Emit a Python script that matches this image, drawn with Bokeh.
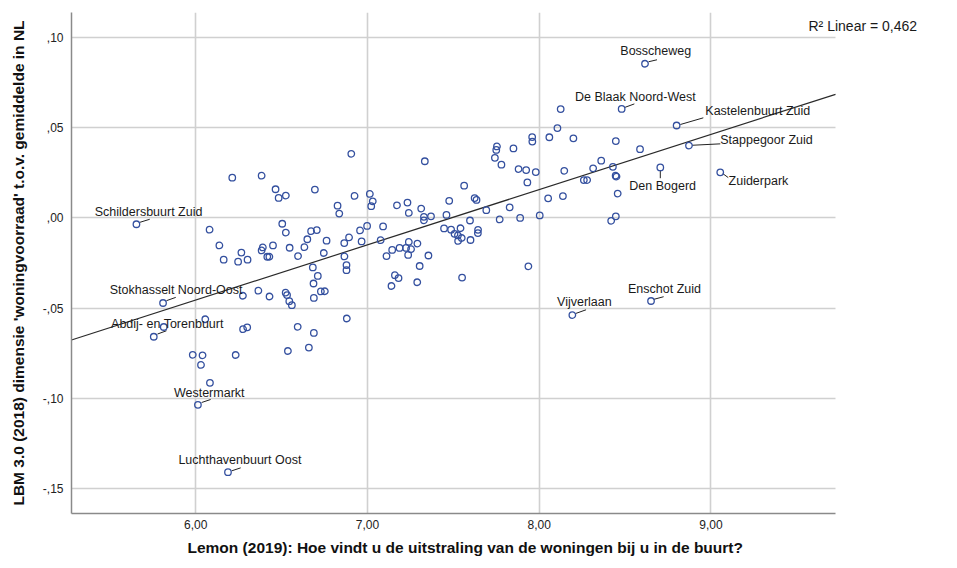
from bokeh.plotting import figure
from bokeh.models import Range1d, FixedTicker, Label, ColumnDataSource, Title, Grid
from bokeh.core.properties import value
from bokeh.embed import file_html
from bokeh.resources import INLINE

# ---------------- data ----------------
labeled_names = ["Schildersbuurt Zuid", "Stokhasselt Noord-Oost", "Abdij- en Torenbuurt",
                 "Westermarkt", "Luchthavenbuurt Oost", "Bosscheweg", "De Blaak Noord-West",
                 "Kastelenbuurt Zuid", "Stappegoor Zuid", "Den Bogerd", "Zuiderpark",
                 "Enschot Zuid", "Vijverlaan"]
labeled_x = [5.655, 5.810, 5.756, 6.013, 6.188, 8.616, 8.480, 8.800, 8.872, 8.705, 9.054, 8.651, 8.193]
labeled_y = [-0.0035, -0.0471, -0.0658, -0.1035, -0.1408, 0.0854, 0.0604, 0.0512, 0.0401, 0.0280,
             0.0253, -0.0460, -0.0538]

other_x = [
    5.814, 6.081, 6.138, 6.213, 6.384, 6.465, 6.483, 6.525, 6.504, 6.525, 6.163, 6.247, 6.266,
    6.302, 6.384, 6.391, 6.417, 6.429, 6.450, 6.547, 6.596, 6.275, 6.365, 6.430, 6.524, 6.532,
    6.545, 6.560, 6.056, 6.276, 6.300, 6.594, 6.537, 6.233, 5.983, 6.040, 6.031, 6.083,
    6.694, 6.826, 6.836, 6.925, 6.906, 6.650, 6.633, 6.672, 6.705, 6.746, 6.762, 6.865, 6.893,
    6.866, 6.957, 6.966, 6.998, 7.014, 7.031, 7.022, 7.091, 7.077, 6.682, 6.711, 6.686, 6.878,
    6.878, 6.688, 6.729, 6.752, 6.880, 6.688, 6.659, 7.111, 7.144, 7.172, 7.140, 7.160, 7.181,
    7.233, 7.241, 7.313, 7.329, 7.329, 7.370, 7.334, 7.187, 7.225, 7.241, 7.254, 7.291, 7.237,
    7.355, 7.304, 7.290, 7.460, 7.476, 7.446, 7.487, 7.507, 7.527, 7.542, 7.549, 7.528, 7.563,
    7.624, 7.635, 7.692, 7.597, 7.600, 7.644, 7.643, 7.551, 7.742, 7.750, 7.754, 7.770,
    7.780, 7.828, 7.850, 7.880, 7.924, 7.889, 7.931, 7.937, 7.959, 7.960, 7.980, 8.003, 8.052,
    8.059, 8.106, 8.125,
    8.138, 8.146, 8.199, 8.260, 8.279, 8.314, 8.361, 8.429, 8.446, 8.445, 8.450, 8.457, 8.446,
    8.419, 8.587]
other_y = [
    -0.0604, -0.0065, -0.0152, 0.0223, 0.0234, 0.0159, 0.0111, 0.0124, -0.0032, -0.0081, -0.0231,
    -0.0242, -0.0192, -0.0231, -0.0180, -0.0163, -0.0215, -0.0215, -0.0152, -0.0165, -0.0211,
    -0.0431, -0.0403, -0.0435, -0.0414, -0.0427, -0.0461, -0.0483, -0.0561, -0.0616, -0.0606,
    -0.0603, -0.0737, -0.0759, -0.0758, -0.0761, -0.0814, -0.0913,
    0.0157, 0.0068, 0.0024, 0.0122, 0.0355, -0.0118, -0.0162, -0.0073, -0.0067, -0.0194, -0.0126,
    -0.0139, -0.0108, -0.0213, -0.0069, -0.0130, -0.0044, 0.0133, 0.0092, 0.0065, -0.0047,
    -0.0123, -0.0274, -0.0321, -0.0363, -0.0261, -0.0289, -0.0443, -0.0407, -0.0406, -0.0557,
    -0.0637, -0.0718, -0.0211, -0.0177, 0.0070, -0.0377, -0.0317, -0.0333,
    0.0085, 0.0028, 0.0052, 0.0006, -0.0013, 0.0009, 0.0314, -0.0166, -0.0166, -0.0133, -0.0173,
    -0.0142, -0.0205, -0.0208, -0.0266, -0.0356, 0.0017, 0.0095, -0.0058, -0.0065, -0.0088,
    -0.0097, -0.0057, -0.0111, -0.0127, 0.0179, 0.0110, 0.0100, 0.0043, -0.0014, -0.0122,
    -0.0066, -0.0084, -0.0330, 0.0333, 0.0377, 0.0396, -0.0008,
    0.0295, 0.0059, 0.0385, 0.0271, 0.0265, 0.0000, 0.0197, -0.0268, 0.0448, 0.0423, 0.0254,
    0.0014, 0.0109, 0.0447, 0.0498, 0.0603,
    0.0121, 0.0261, 0.0441, 0.0210, 0.0210, 0.0275, 0.0317, 0.0283, 0.0426, 0.0234, 0.0229,
    0.0135, 0.0009, -0.0016, 0.0381]

x_ticks = [6, 7, 8, 9]
x_tick_labels = ["6,00", "7,00", "8,00", "9,00"]
y_ticks = [-0.15, -0.10, -0.05, 0.0, 0.05, 0.10]
y_tick_labels = ["-,15", "-,10", "-,05", ",00", ",05", ",10"]

fit_slope = 0.0306
fit_intercept = -0.2291
r2_text = "R\u00b2 Linear = 0,462"

x_title = "Lemon (2019): Hoe vindt u de uitstraling van de woningen bij u in de buurt?"
y_title = "LBM 3.0 (2018) dimensie 'woningvoorraad' t.o.v. gemiddelde in NL"

# ---------------- layout / style ----------------
X0, X1 = 5.277, 9.725          # visible data area (axes / grid extent)
Y0, Y1 = -0.1637, 0.1138
FW, FH = 764, 501               # pixel size of the data area
FW_EXT = 860                    # frame widened to host the R² note
xs = (X1 - X0) / FW
ys = (Y1 - Y0) / FH
X1_EXT = X0 + FW_EXT * xs

# label offsets in screen px (text left / middle) and leader line offsets
lab_dx = [-41.7, -53.3, -42.7, -24.0, -49.6, -24.7, -46.6, 28.7, 31.3, -31.0, 8.3, -23.0, -15.3]
lab_dy = [-12.7, -13.0, -12.7, -12.3, -12.0, -12.3, -12.3, -15.0, -5.7, 18.3, 8.3, -12.0, -12.6]
lead_a = [(3.6, -2), (3.4, -2.3), (3.7, -2.7), (3.7, -2.3), (3.7, -1.3), (3.5, -2), (3.4, -1.6),
          (3.7, -1), (3.3, -0.3), (0, 3.3), (2.5, 1.3), (2.6, -1.6), (3.3, -1.6)]
lead_b = [(13.3, -5), (12.7, -5.6), (12.7, -6), (12.7, -5.3), (12.7, -4.3), (12, -4), (12.7, -5),
          (26.7, -7.7), (31.3, -1.7), (0, 10.8), (8, 5.3), (12.6, -4.3), (13.7, -5.3)]

FONT = value("Liberation Sans")
BLUE = "#34509f"
GRID = "#d0d0d0"

p = figure(frame_width=FW_EXT, frame_height=FH, output_backend="svg", toolbar_location=None,
           x_range=Range1d(X0, X1_EXT), y_range=Range1d(Y0, Y1),
           min_border_left=71, min_border_right=6, min_border_top=12, min_border_bottom=50,
           background_fill_color="white", border_fill_color="white")
p.outline_line_color = None

for ax in (p.xaxis[0], p.yaxis[0]):
    ax.axis_line_color = "#8a8a8a"
    ax.axis_line_width = 1.5
    ax.major_tick_line_color = None
    ax.minor_tick_line_color = None
    ax.major_tick_out = 0
    ax.major_tick_in = 0
    ax.major_label_text_font = "Liberation Sans"
    ax.major_label_text_font_size = "12px"
    ax.major_label_text_color = "#222222"
    ax.axis_label_text_font = "Liberation Sans"
    ax.axis_label_text_font_style = "bold"
    ax.axis_label_text_font_size = "15.5px"
    ax.axis_label_text_color = "#111111"

p.xaxis[0].ticker = FixedTicker(ticks=x_ticks)
p.xaxis[0].major_label_overrides = {t: l for t, l in zip(x_ticks, x_tick_labels)}
p.xaxis[0].bounds = (X0, X1)
p.yaxis[0].ticker = FixedTicker(ticks=y_ticks)
p.yaxis[0].major_label_overrides = {t: l for t, l in zip(y_ticks, y_tick_labels)}
p.yaxis[0].axis_label = y_title
p.xaxis[0].major_label_standoff = 6
p.yaxis[0].major_label_standoff = 8
p.yaxis[0].axis_label_standoff = 13

p.add_layout(Title(text=x_title, align="left", offset=116, standoff=10, vertical_align="bottom",
                   text_font="Liberation Sans", text_font_style="bold",
                   text_font_size="15.5px", text_color="#111111"), "below")

p.xgrid.grid_line_color = GRID
p.xgrid.grid_line_width = 1.6
if "cross_bounds" in Grid.properties():
    p.ygrid.grid_line_color = GRID
    p.ygrid.grid_line_width = 1.6
    p.ygrid.cross_bounds = (X0, X1)
else:
    p.ygrid.visible = False
    p.segment([X0] * len(y_ticks), y_ticks, [X1] * len(y_ticks), y_ticks,
              line_color=GRID, line_width=1.6, level="underlay")

# regression line
p.line([X0, X1], [fit_intercept + fit_slope * X0, fit_intercept + fit_slope * X1],
       line_color="#2a2a2a", line_width=1.2)

# leader lines
sx0 = [x + a[0] * xs for x, a in zip(labeled_x, lead_a)]
sy0 = [y - a[1] * ys for y, a in zip(labeled_y, lead_a)]
sx1 = [x + b[0] * xs for x, b in zip(labeled_x, lead_b)]
sy1 = [y - b[1] * ys for y, b in zip(labeled_y, lead_b)]
p.segment(sx0, sy0, sx1, sy1, line_color="#222222", line_width=1)

# points
p.scatter(other_x + labeled_x, other_y + labeled_y, marker="circle", size=6.5,
          fill_color=None, line_color=BLUE, line_width=1.3)

# labels
src = ColumnDataSource(dict(
    x=[x + d * xs for x, d in zip(labeled_x, lab_dx)],
    y=[y - d * ys for y, d in zip(labeled_y, lab_dy)],
    t=labeled_names))
p.text("x", "y", text="t", source=src, text_font=FONT, text_font_size="12.5px",
       text_color="#1a1a1a", text_align="left", text_baseline="middle")

p.add_layout(Label(x=X0 + 737 * xs, y=Y1 - 13 * ys, text=r2_text, text_font="Liberation Sans",
                   text_font_size="14px", text_color="#1a1a1a", text_baseline="middle",
                   level="overlay"))

open("out.html", "w").write(file_html(p, INLINE))
